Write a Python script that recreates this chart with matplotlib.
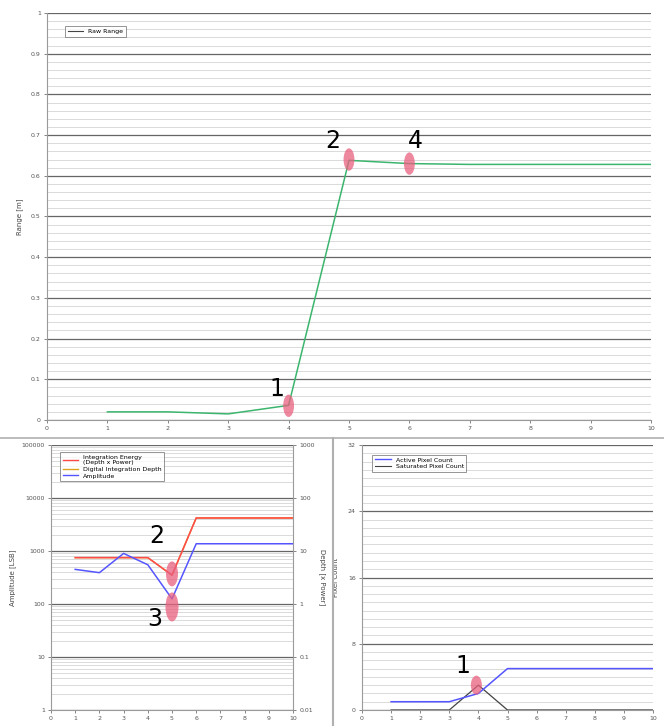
import matplotlib
matplotlib.use("Agg")
import matplotlib.pyplot as plt
from matplotlib.lines import Line2D
from matplotlib.patches import Ellipse
from matplotlib.ticker import MultipleLocator, FixedLocator, FuncFormatter, LogLocator

# ---- data ----
x_top = [1, 2, 3, 4, 5, 6, 7, 8, 9, 10]
raw_range = [0.02, 0.02, 0.015, 0.036, 0.638, 0.63, 0.628, 0.628, 0.628, 0.628]

x_bl = [1, 2, 3, 4, 5, 6, 7, 8, 9, 10]
integration_energy = [750, 750, 750, 750, 350, 4200, 4200, 4200, 4200, 4200]
integration_depth = [7.5, 7.5, 7.5, 7.5, 3.5, 42, 42, 42, 42, 42]
amplitude = [450, 390, 900, 550, 125, 1370, 1370, 1370, 1370, 1370]

x_br = [1, 2, 3, 4, 5, 6, 7, 8, 9, 10]
active_pixels = [1, 1, 1, 2, 5, 5, 5, 5, 5, 5]
saturated_pixels = [0, 0, 0, 3, 0, 0, 0, 0, 0, 0]

GREEN = "#3cb56e"
RED = "#ff4a4a"
ORANGE = "#e0a020"
BLUE = "#5555ff"
DARK = "#444444"
MAJOR_GRID = "#666666"
MINOR_GRID = "#d4d4d4"
MARK = "#e8607f"

TICK_FS = 4.5
LABEL_FS = 5
NUM_FS = 17

W, H = 664, 726


def px_axes(fig, left, top, right, bottom):
    return fig.add_axes([left / W, 1 - bottom / H, (right - left) / W, (bottom - top) / H])


def style_axes(ax):
    ax.tick_params(axis="both", which="major", labelsize=TICK_FS, length=2.5, width=0.5,
                   colors="#555555", pad=2)
    ax.tick_params(axis="both", which="minor", length=0)
    for side in ("top", "right"):
        ax.spines[side].set_visible(False)
    for side in ("left", "bottom"):
        ax.spines[side].set_color("#9a9a9a")
        ax.spines[side].set_linewidth(0.8)
    ax.grid(True, which="major", axis="y", color=MAJOR_GRID, linewidth=0.9)
    ax.grid(True, which="minor", axis="y", color=MINOR_GRID, linewidth=0.6)
    ax.set_axisbelow(True)


def mark(ax, x, y, w, h):
    ax.add_patch(Ellipse((x, y), w, h, facecolor=MARK, edgecolor="none", alpha=0.75, zorder=5))


def mark_px(ax, x, y, wpx, hpx):
    # ellipse sized in pixels (works for log axes too)
    xd, yd = ax.transData.transform((x, y))
    e = Ellipse((xd, yd), wpx, hpx, transform=None, facecolor=MARK, edgecolor="none",
                alpha=0.75, zorder=5)
    ax.add_artist(e)


fig = plt.figure(figsize=(6.64, 7.26), dpi=100)

# ---- top panel: range ----
ax1 = px_axes(fig, 47, 13, 651, 420)
ax1.plot(x_top, raw_range, color=GREEN, linewidth=1.1, label="Raw Range", zorder=4)
ax1.set_xlim(0, 10)
ax1.set_ylim(0, 1)
ax1.xaxis.set_major_locator(MultipleLocator(1))
ax1.yaxis.set_major_locator(MultipleLocator(0.1))
ax1.yaxis.set_minor_locator(MultipleLocator(0.02))
ax1.yaxis.set_major_formatter(FuncFormatter(lambda v, p: f"{v:g}"))
style_axes(ax1)
ax1.set_ylabel("Range [m]", fontsize=LABEL_FS, color="#444444", labelpad=6)
leg = ax1.legend(handles=[Line2D([], [], color=DARK, linewidth=0.8)], labels=["Raw Range"],
                 loc="upper left", bbox_to_anchor=(0.025, 0.975), fontsize=4.5,
                 fancybox=False, edgecolor="#666666", handlelength=2.5)
leg.get_frame().set_linewidth(0.6)

mark(ax1, 4, 0.035, 0.18, 0.055)
mark(ax1, 5, 0.64, 0.18, 0.055)
mark(ax1, 6, 0.63, 0.18, 0.055)
ax1.text(3.8, 0.075, "1", fontsize=NUM_FS, ha="center", va="center", zorder=6)
ax1.text(4.73, 0.685, "2", fontsize=NUM_FS, ha="center", va="center", zorder=6)
ax1.text(6.1, 0.685, "4", fontsize=NUM_FS, ha="center", va="center", zorder=6)

# ---- bottom-left: amplitude / integration ----
ax2 = px_axes(fig, 51, 445, 293, 710)
ax2r = ax2.twinx()
# keep the primary axes (red / blue lines) on top of the twin
ax2.set_zorder(ax2r.get_zorder() + 1)
ax2.patch.set_visible(False)
ax2r.plot(x_bl, integration_depth, color=ORANGE, linewidth=1.1, zorder=3)
ax2.plot(x_bl, integration_energy, color=RED, linewidth=1.1, zorder=4)
ax2.plot(x_bl, amplitude, color=BLUE, linewidth=1.1, zorder=4)
ax2.set_xlim(0, 10)
ax2.set_yscale("log")
ax2.set_ylim(1, 100000)
ax2r.set_yscale("log")
ax2r.set_ylim(0.01, 1000)
ax2.xaxis.set_major_locator(MultipleLocator(1))
ax2.yaxis.set_major_locator(FixedLocator([1, 10, 100, 1000, 10000, 100000]))
ax2.yaxis.set_minor_locator(LogLocator(base=10, subs=range(2, 10), numticks=20))
ax2r.yaxis.set_major_locator(FixedLocator([0.01, 0.1, 1, 10, 100, 1000]))
ax2r.yaxis.set_minor_locator(FixedLocator([]))
fmt = FuncFormatter(lambda v, p: f"{v:g}")
ax2.yaxis.set_major_formatter(fmt)
ax2r.yaxis.set_major_formatter(fmt)
style_axes(ax2)
ax2r.tick_params(axis="y", labelsize=TICK_FS, length=2.5, width=0.5, colors="#555555", pad=2)
ax2r.tick_params(axis="y", which="minor", length=0)
ax2r.spines["top"].set_visible(False)
ax2r.spines["left"].set_visible(False)
ax2r.spines["bottom"].set_visible(False)
ax2r.spines["right"].set_color("#9a9a9a")
ax2r.spines["right"].set_linewidth(0.8)
ax2.set_ylabel("Amplitude [LSB]", fontsize=LABEL_FS, color="#444444", labelpad=4)
ax2r.set_ylabel("Depth [x Power]", fontsize=LABEL_FS, color="#444444", labelpad=3, rotation=270,
                va="bottom")
handles = [Line2D([], [], color=RED, linewidth=1), Line2D([], [], color=ORANGE, linewidth=1),
           Line2D([], [], color=BLUE, linewidth=1)]
labels = ["Integration Energy\n(Depth x Power)", "Digital Integration Depth", "Amplitude"]
leg2 = ax2.legend(handles, labels, loc="upper left", bbox_to_anchor=(0.025, 0.985), fontsize=4.5,
                  fancybox=False, edgecolor="#666666", handlelength=2.5, labelspacing=0.2)
leg2.get_frame().set_linewidth(0.6)

fig.canvas.draw()
mark_px(ax2, 5, 370, 12, 25)
mark_px(ax2, 5, 88, 13, 29)
ax2.text(4.35, 1900, "2", fontsize=NUM_FS, ha="center", va="center", zorder=6)
ax2.text(4.3, 52, "3", fontsize=NUM_FS, ha="center", va="center", zorder=6)

# ---- bottom-right: pixel counts ----
ax3 = px_axes(fig, 362, 445, 653, 710)
ax3.plot(x_br, saturated_pixels, color=DARK, linewidth=0.9, zorder=3)
ax3.plot(x_br, active_pixels, color=BLUE, linewidth=1.1, zorder=4)
ax3.set_xlim(0, 10)
ax3.set_ylim(0, 32)
ax3.xaxis.set_major_locator(MultipleLocator(1))
ax3.yaxis.set_major_locator(MultipleLocator(8))
ax3.yaxis.set_minor_locator(MultipleLocator(1))
style_axes(ax3)
ax3.set_ylabel("Pixel Count", fontsize=LABEL_FS, color="#444444", labelpad=6)
handles = [Line2D([], [], color=BLUE, linewidth=1), Line2D([], [], color=DARK, linewidth=0.8)]
leg3 = ax3.legend(handles, ["Active Pixel Count", "Saturated Pixel Count"], loc="upper left",
                  bbox_to_anchor=(0.025, 0.975), fontsize=4.5, fancybox=False,
                  edgecolor="#666666", handlelength=2.5, labelspacing=0.2)
leg3.get_frame().set_linewidth(0.6)
mark(ax3, 3.93, 3.0, 0.38, 2.3)
ax3.text(3.45, 5.3, "1", fontsize=NUM_FS, ha="center", va="center", zorder=6)

# panel separators
fig.add_artist(Line2D([0, 1], [1 - 438 / H, 1 - 438 / H], transform=fig.transFigure,
                      color="#b0b0b0", linewidth=1.2))
fig.add_artist(Line2D([333 / W, 333 / W], [0, 1 - 438 / H], transform=fig.transFigure,
                      color="#b0b0b0", linewidth=1.5))

fig.savefig("out.png", dpi=100)
